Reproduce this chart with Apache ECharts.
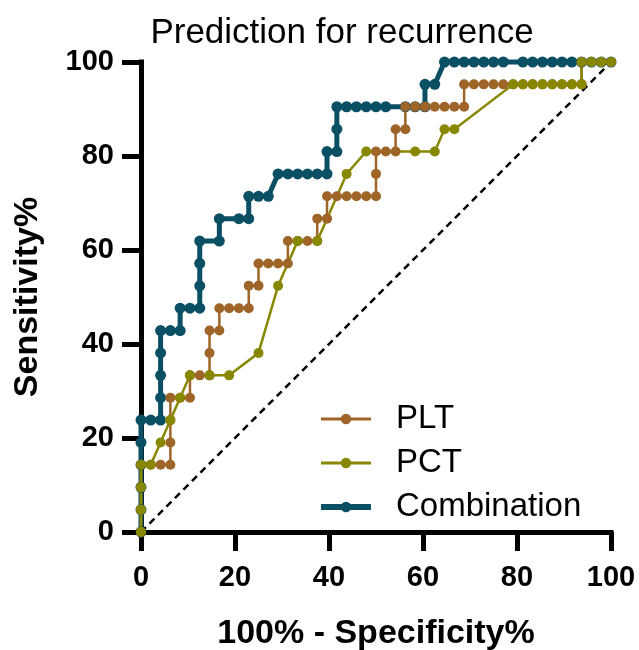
<!DOCTYPE html>
<html><head><meta charset="utf-8">
<script src="https://cdn.jsdelivr.net/npm/echarts/dist/echarts.min.js"></script>
<style>html,body{margin:0;padding:0;background:#fff}#c{width:639px;height:650px}</style>
</head><body><div id="c"></div>
<script>
const chartTitle = 'Prediction for recurrence';
const xName = '100% - Specificity%';
const yName = 'Sensitivity%';
const seriesNames = ['PLT', 'PCT', 'Combination'];
const tickValues = [0, 20, 40, 60, 80, 100];
const diagonal = [[0, 0], [100, 100]];

const pltPoints = [[0,0],[0,4.76],[0,9.52],[0,14.29],[2.08,14.29],[4.17,14.29],[6.25,14.29],[6.25,19.05],[6.25,23.81],[6.25,28.57],[8.33,28.57],[10.42,28.57],[10.42,33.33],[12.5,33.33],[14.58,33.33],[14.58,38.1],[14.58,42.86],[16.67,42.86],[16.67,47.62],[18.75,47.62],[20.83,47.62],[22.92,47.62],[22.92,52.38],[25,52.38],[25,57.14],[27.08,57.14],[29.17,57.14],[31.25,57.14],[31.25,61.9],[33.33,61.9],[35.42,61.9],[37.5,61.9],[37.5,66.67],[39.58,66.67],[39.58,71.43],[41.67,71.43],[43.75,71.43],[45.83,71.43],[47.92,71.43],[50,71.43],[50,76.19],[50,80.95],[52.08,80.95],[54.17,80.95],[54.17,85.71],[56.25,85.71],[56.25,90.48],[58.33,90.48],[60.42,90.48],[62.5,90.48],[64.58,90.48],[66.67,90.48],[68.75,90.48],[68.75,95.24],[70.83,95.24],[72.92,95.24],[75,95.24],[77.08,95.24],[79.17,95.24],[81.25,95.24],[83.33,95.24],[85.42,95.24],[87.5,95.24],[89.58,95.24],[91.67,95.24],[93.75,95.24],[93.75,100],[95.83,100],[97.92,100],[100,100]];

const pctPoints = [[0,0],[0,4.76],[0,9.52],[0,14.29],[2.08,14.29],[4.17,19.05],[6.25,23.81],[8.33,28.57],[10.42,33.33],[14.58,33.33],[18.75,33.33],[25,38.1],[29.17,52.38],[33.33,61.9],[37.5,61.9],[43.75,76.19],[47.92,80.95],[58.33,80.95],[62.5,80.95],[64.58,85.71],[66.67,85.71],[79.17,95.24],[81.25,95.24],[83.33,95.24],[85.42,95.24],[87.5,95.24],[89.58,95.24],[91.67,95.24],[93.75,95.24],[93.75,100],[95.83,100],[97.92,100],[100,100]];

const combinationPoints = [[0,0],[0,4.76],[0,9.52],[0,14.29],[0,19.05],[0,23.81],[2.08,23.81],[4.17,23.81],[4.17,28.57],[4.17,33.33],[4.17,38.1],[4.17,42.86],[6.25,42.86],[8.33,42.86],[8.33,47.62],[10.42,47.62],[12.5,47.62],[12.5,52.38],[12.5,57.14],[12.5,61.9],[16.67,61.9],[16.67,66.67],[20.83,66.67],[22.92,66.67],[22.92,71.43],[25,71.43],[27.08,71.43],[29.17,76.19],[31.25,76.19],[33.33,76.19],[35.42,76.19],[37.5,76.19],[39.58,76.19],[39.58,80.95],[41.67,80.95],[41.67,85.71],[41.67,90.48],[43.75,90.48],[45.83,90.48],[47.92,90.48],[50,90.48],[52.08,90.48],[56.25,90.48],[58.33,90.48],[60.42,90.48],[60.42,95.24],[62.5,95.24],[64.58,100],[66.67,100],[68.75,100],[70.83,100],[72.92,100],[75,100],[77.08,100],[81.25,100],[83.33,100],[85.42,100],[87.5,100],[89.58,100],[91.67,100],[93.75,100],[95.83,100],[97.92,100],[100,100]];

const colors = { PLT: '#9E6428', PCT: '#878700', Combination: '#0A4F63' };
const lineWidths = { PLT: 2.5, PCT: 2.5, Combination: 5 };
const legendLineWidths = { PLT: 3, PCT: 3, Combination: 6 };
const FONT = '"Liberation Sans", Arial, sans-serif';

const chart = echarts.init(document.getElementById('c'), null, { renderer: 'canvas' });

function axisCommon(isX) {
  return {
    type: 'value',
    min: tickValues[0],
    max: tickValues[tickValues.length - 1],
    interval: tickValues[1] - tickValues[0],
    name: isX ? xName : yName,
    nameLocation: 'middle',
    nameGap: isX ? 85 : 96,
    nameTextStyle: { fontFamily: FONT, fontSize: 34, fontWeight: 'bold', color: '#000' },
    axisLine: { show: true, lineStyle: { color: '#000', width: 5, cap: 'square' } },
    axisTick: { show: true, inside: false, length: 19, lineStyle: { color: '#000', width: 5 } },
    axisLabel: { fontFamily: FONT, fontSize: 29, fontWeight: 'bold', color: '#000', margin: isX ? 31 : 27 },
    splitLine: { show: false }
  };
}

function lineSeries(name, points, size) {
  return {
    name: name,
    type: 'line',
    data: points,
    clip: false,
    symbol: 'circle',
    symbolSize: size,
    showAllSymbol: true,
    color: colors[name],
    itemStyle: { color: colors[name] },
    lineStyle: { color: colors[name], width: lineWidths[name] },
    emphasis: { disabled: true },
    animation: false
  };
}

chart.setOption({
  animation: false,
  backgroundColor: '#fff',
  title: {
    text: chartTitle,
    left: 337,
    textAlign: 'center',
    top: 11,
    textStyle: { fontFamily: FONT, fontSize: 35, fontWeight: 'normal', color: '#000' }
  },
  grid: { left: 141, right: 28, top: 62, bottom: 118, containLabel: false, outerBoundsMode: 'none' },
  xAxis: axisCommon(true),
  yAxis: axisCommon(false),
  legend: {
    data: seriesNames.map(n => ({
      name: n,
      itemStyle: { color: colors[n] },
      lineStyle: { color: colors[n], width: legendLineWidths[n] }
    })),
    orient: 'vertical',
    left: 313,
    top: 396,
    itemWidth: 50,
    itemHeight: 13,
    itemGap: 8,
    textStyle: { fontFamily: FONT, fontSize: 33, color: '#000', lineHeight: 36, padding: [0, 0, 0, 20] },
    selectedMode: false
  },
  series: [
    {
      name: 'diagonal', type: 'line', data: diagonal, symbol: 'none', silent: true, clip: false,
      lineStyle: { color: '#000', width: 2.5, type: [7, 5] }, animation: false
    },
    lineSeries('Combination', combinationPoints, 11),
    lineSeries('PLT', pltPoints, 10),
    lineSeries('PCT', pctPoints, 10)
  ]
});
</script></body></html>
